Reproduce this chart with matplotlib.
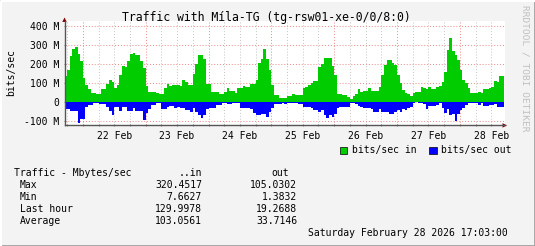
import matplotlib
matplotlib.use("Agg")
import matplotlib.pyplot as plt
from matplotlib.patches import Patch, Rectangle
from matplotlib.ticker import MultipleLocator, FixedLocator

# hourly averages, Mbit/s, starting 21 Feb ~17:00 (7 h before 22 Feb 00:00)
traffic_in = [
    135, 167, 242, 276, 288, 249, 214, 123, 88, 67, 46, 46, 40, 40, 67, 67, 92, 114, 105, 74,
    88, 140, 188, 183, 214, 249, 256, 246, 246, 214, 177, 83, 51, 51, 51, 46, 40, 40, 74, 93,
    84, 88, 88, 88, 84, 112, 105, 88, 88, 144, 196, 246, 246, 223, 93, 93, 53, 53, 53, 42,
    42, 53, 72, 56, 56, 47, 74, 74, 81, 77, 77, 91, 91, 112, 202, 223, 275, 223, 167, 88,
    35, 35, 21, 21, 21, 32, 32, 40, 35, 35, 35, 70, 79, 88, 96, 109, 109, 184, 200, 228,
    232, 232, 190, 140, 40, 40, 35, 35, 26, 12, 30, 42, 67, 53, 58, 58, 70, 56, 56, 56,
    79, 140, 193, 219, 219, 202, 193, 140, 96, 61, 44, 40, 30, 47, 53, 53, 79, 74, 67, 79,
    67, 67, 79, 82, 105, 154, 272, 333, 267, 246, 219, 167, 114, 100, 74, 44, 44, 44, 49, 44,
    67, 67, 74, 79, 109, 105, 135, 135,
]
traffic_out = [
    40, 40, 50, 50, 50, 110, 93, 93, 28, 18, 18, 5, 5, 10, 10, 10, 28, 50, 70, 28,
    28, 50, 30, 30, 50, 50, 35, 50, 50, 50, 95, 60, 40, 20, 20, 5, 5, 37, 37, 30,
    25, 25, 35, 26, 35, 35, 44, 44, 53, 32, 53, 70, 88, 70, 40, 32, 32, 32, 18, 18,
    5, 9, 12, 12, 5, 5, 9, 35, 35, 32, 32, 40, 58, 70, 70, 65, 65, 79, 53, 35,
    12, 12, 12, 9, 14, 5, 5, 5, 9, 14, 14, 26, 26, 26, 35, 44, 44, 53, 44, 70,
    88, 70, 79, 65, 32, 26, 26, 26, 26, 9, 9, 14, 21, 26, 32, 32, 32, 40, 53, 53,
    39, 53, 56, 56, 67, 67, 53, 44, 53, 40, 44, 35, 26, 9, 4, 9, 9, 14, 39, 21,
    21, 21, 18, 9, 35, 58, 40, 70, 65, 102, 65, 44, 32, 18, 5, 9, 5, 5, 18, 9,
    21, 21, 18, 18, 14, 26, 26, 26,
]
assert len(traffic_in) == 168 and len(traffic_out) == 168

day_labels = ["22 Feb", "23 Feb", "24 Feb", "25 Feb", "26 Feb", "27 Feb", "28 Feb"]
y_ticks = [-100, 0, 100, 200, 300, 400]
y_labels = ["-100 M", "0", "100 M", "200 M", "300 M", "400 M"]

stat_names = ["Max", "Min", "Last hour", "Average"]
stat_in = ["320.4517", "7.6627", "129.9978", "103.0561"]
stat_out = ["105.0302", "1.3832", "19.2688", "33.7146"]

title = "Traffic with Míla-TG (tg-rsw01-xe-0/0/8:0)"
stamp = "Saturday February 28 2026 17:03:00"

mono = "DejaVu Sans Mono"
bg = "#f3f3f3"
W, H = 535, 246

fig = plt.figure(figsize=(W / 100, H / 100), dpi=100, facecolor=bg)
ax = fig.add_axes([64.5 / W, (H - 125.4) / H, 440 / W, 104.4 / H])
ax.set_facecolor("white")

start = -7
xs = [start + i for i in range(len(traffic_in))]
ax.bar(xs, traffic_in, width=1, align="edge", color="#00cc00", linewidth=0, zorder=2)
ax.bar(xs, [-v for v in traffic_out], width=1, align="edge", color="#0000ff", linewidth=0, zorder=2)

ax.set_xlim(start, start + len(traffic_in) + 0.05)
ax.set_ylim(-125, 425)

# grid: red at midnight / every 100M, grey every 6 h
ax.xaxis.set_major_locator(FixedLocator([24 * k for k in range(7)]))
ax.xaxis.set_minor_locator(MultipleLocator(6))
ax.set_yticks(y_ticks)
ax.set_yticklabels(y_labels)
ax.set_xticklabels([])
for d, lab in enumerate(day_labels):
    ax.text(12 + 24 * d, -0.055, lab, transform=ax.get_xaxis_transform(),
            ha="center", va="top", fontsize=7, family=mono)

ax.set_axisbelow(True)
ax.grid(True, which="major", color="#ee8888", linestyle=(0, (1, 2)), linewidth=0.7)
ax.grid(True, which="minor", axis="x", color="#c4c4c4", linestyle=(0, (1, 2)), linewidth=0.7)
ax.tick_params(which="both", length=2, width=0.8, color="#888888", direction="inout",
               labelsize=7, pad=3)
for lbl in ax.get_yticklabels():
    lbl.set_family(mono)

for s in ["top", "right"]:
    ax.spines[s].set_visible(False)
for s in ["left", "bottom"]:
    ax.spines[s].set_color("#555555")
    ax.spines[s].set_linewidth(1)
    ax.spines[s].set_zorder(4)

# axis arrows
ax.annotate("", xy=(1.012, 0), xytext=(0.99, 0), xycoords="axes fraction",
            arrowprops=dict(arrowstyle="-|>", color="#800000", lw=0, mutation_scale=8),
            annotation_clip=False)
ax.annotate("", xy=(0, 1.06), xytext=(0, 0.99), xycoords="axes fraction",
            arrowprops=dict(arrowstyle="-|>", color="#800000", lw=0, mutation_scale=8),
            annotation_clip=False)

fig.text(266 / W, 1 - 17 / H, title, ha="center", va="center", fontsize=8.3, family=mono)
fig.text(11 / W, 1 - 73 / H, "bits/sec", rotation=90, ha="center", va="center",
         fontsize=7, family=mono)
fig.text(525 / W, 1 - 5 / H, "RRDTOOL / TOBI OETIKER", rotation=270, ha="center", va="top",
         fontsize=6.8, family=mono, color="#c0c0c0")

handles = [Patch(facecolor="#00cc00", edgecolor="black", linewidth=0.5, label="bits/sec in"),
           Patch(facecolor="#0000ff", edgecolor="black", linewidth=0.5, label="bits/sec out")]
fig.legend(handles=handles, loc="center right", bbox_to_anchor=(512 / W, 1 - 150.5 / H),
           ncol=2, frameon=False, prop={"family": mono, "size": 7},
           handlelength=0.75, handleheight=0.75, handletextpad=0.5, columnspacing=1.3,
           borderpad=0, borderaxespad=0)

# statistics block
fig.text(14 / W, 1 - 173 / H, "Traffic - Mbytes/sec", ha="left", va="center", fontsize=7, family=mono)
fig.text(202 / W, 1 - 173 / H, "..in", ha="right", va="center", fontsize=7, family=mono)
fig.text(288.5 / W, 1 - 173 / H, "out", ha="right", va="center", fontsize=7, family=mono)
for i, name in enumerate(stat_names):
    y = 1 - (185 + 12.1 * i) / H
    fig.text(20 / W, y, name, ha="left", va="center", fontsize=7, family=mono)
    fig.text(202 / W, y, stat_in[i], ha="right", va="center", fontsize=7, family=mono)
    fig.text(297 / W, y, stat_out[i], ha="right", va="center", fontsize=7, family=mono)
fig.text(508 / W, 1 - 233.5 / H, stamp, ha="right", va="center", fontsize=7, family=mono)

# bevelled frame
fig.patches.append(Rectangle((0, 0), 1, 1, transform=fig.transFigure, fill=False,
                             edgecolor="#a0a0a0", linewidth=2))
fig.lines.append(plt.Line2D([0.5 / W, 0.5 / W, 1 - 1 / W], [0, 1 - 0.5 / H, 1 - 0.5 / H],
                            transform=fig.transFigure, color="white", linewidth=1.5))

fig.savefig("out.png", dpi=100, facecolor=bg)
